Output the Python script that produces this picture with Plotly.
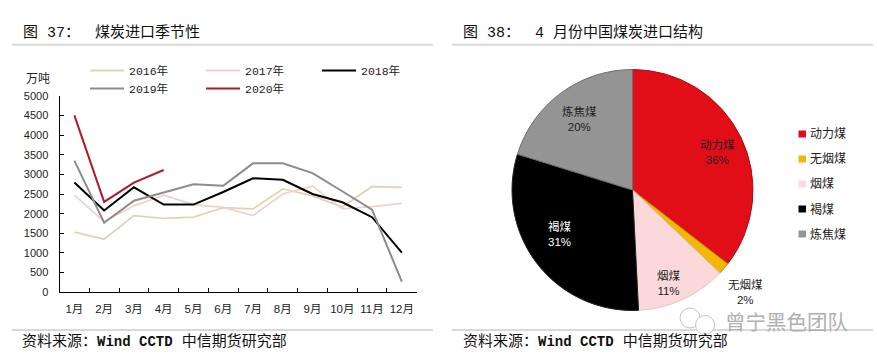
import plotly.graph_objects as go

W, H = 877, 360
months = ["1月","2月","3月","4月","5月","6月","7月","8月","9月","10月","11月","12月"]
y2016 = [1530,1350,1950,1880,1910,2150,2120,2630,2450,2170,2690,2670]
y2017 = [2470,1800,2200,2470,2230,2160,1950,2500,2700,2120,2180,2260]
y2018 = [2790,2080,2670,2230,2230,2550,2900,2860,2500,2290,1910,1010]
y2019 = [3350,1770,2330,2540,2750,2710,3280,3280,3030,2570,2100,270]
y2020 = [4500,2300,2790,3110]
series_names = ["2016年","2017年","2018年","2019年","2020年"]
series_colors = ["#E3D3B0","#F3CFCF","#000000","#8C8C8C","#B01C22"]
series_legend = ["legend","legend","legend","legend2","legend2"]
yticks = list(range(0,5001,500))

pie_labels = ["动力煤","无烟煤","烟煤","褐煤","炼焦煤"]
pie_values = [35.5,1.6,12.1,30.6,20.2]
pie_pct = ["36%","2%","11%","31%","20%"]
pie_colors = ["#E10E17","#F2B705","#FBD9DA","#000000","#949494"]
pie_edges = ["#A80C12","#B58A05","#E8C4C5","#222222","#6E6E6E"]

MONO = "'Liberation Mono','Noto Sans CJK SC',monospace"
SANS = "'Liberation Sans','Noto Sans CJK SC',sans-serif"
px = lambda x: x / W
py = lambda y: 1 - y / H

fig = go.Figure()
for name, vals, col, leg in zip(series_names, [y2016,y2017,y2018,y2019,y2020], series_colors, series_legend):
    fig.add_trace(go.Scatter(x=months[:len(vals)], y=vals, name=name, mode="lines",
                             line=dict(color=col, width=2 if col in ("#000000","#8C8C8C","#B01C22") else 1.8),
                             legend=leg))
fig.add_trace(go.Pie(labels=pie_labels, values=pie_values, sort=False, direction="clockwise",
                     rotation=0, textinfo="none", hoverinfo="label+percent", showlegend=False,
                     marker=dict(colors=pie_colors, line=dict(color=pie_edges, width=1)),
                     domain=dict(x=[px(512), px(753)], y=[py(310.5), py(69.5)])))

ann = []
def text(x, y, s, size=12, color="#111", family=SANS, anchor="center"):
    ann.append(dict(x=px(x), y=py(y), xref="paper", yref="paper", text=s, showarrow=False,
                    xanchor=anchor, yanchor="middle", align="center",
                    font=dict(size=size, color=color, family=family)))

source = "资料来源：<b><span style='font-size:14px'>Wind CCTD</span></b> 中信期货研究部"
text(21, 33, "图 37：", 15, "#111", MONO, "left")
text(93, 33, "煤炭进口季节性", 15, "#111", MONO, "left")
text(461, 33, "图 38：", 15, "#111", MONO, "left")
text(533, 33, "4 月份中国煤炭进口结构", 15, "#111", MONO, "left")
text(20, 342, source, 15, "#111", MONO, "left")
text(461, 342, source, 15, "#111", MONO, "left")
text(38, 79, "万吨", 12, "#222")

pie_pos = [(717,152.5),(745,292),(669,283),(560,234),(579,119.5)]
for lab, pct, (x,y), c in zip(pie_labels, pie_pct, pie_pos, ["#222","#222","#222","#fff","#222"]):
    text(x, y, f"{lab}<br>{pct}", 11.5, c, SANS)

shapes = []
leg_y = [134,159,184,209,234]
for lab, c, y in zip(pie_labels, pie_colors, leg_y):
    text(808, y, lab, 12, "#222", SANS, "left")
    shapes.append(dict(type="rect", xref="paper", yref="paper", x0=px(798.5), x1=px(806),
                       y0=py(y+3.5), y1=py(y-3.5), fillcolor=c, line=dict(color=c, width=0)))

text(723, 322, "曾宁黑色团队", 20.5, "#B0B0B0", SANS, "left")

for x0, x1 in [(12,433),(452,873)]:
    for y in (44.7, 330):
        shapes.append(dict(type="line", xref="paper", yref="paper", x0=px(x0), x1=px(x1),
                           y0=py(y), y1=py(y), line=dict(color="#D9D9D9", width=2)))
for cx, cy, r in [(690,318,10),(705,325,9.5)]:
    shapes.append(dict(type="circle", xref="paper", yref="paper", x0=px(cx-r), x1=px(cx+r),
                       y0=py(cy+r), y1=py(cy-r), line=dict(color="#C4C4C4", width=1), fillcolor="white"))

legend_common = dict(orientation="h", x=px(85), xanchor="left", yanchor="top",
                     entrywidth=67, entrywidthmode="pixels", itemwidth=34, traceorder="normal",
                     font=dict(size=11.5, family=MONO, color="#222"), bgcolor="rgba(0,0,0,0)")

fig.update_layout(
    width=W, height=H, autosize=False, margin=dict(l=0,r=0,t=0,b=0,autoexpand=False),
    paper_bgcolor="white", plot_bgcolor="white",
    font=dict(family=SANS, size=11, color="#222"),
    annotations=ann, shapes=shapes,
    xaxis=dict(domain=[px(59.5), px(416.7)], type="category", categoryorder="array", categoryarray=months,
               range=[-0.5,11.5], showgrid=False, zeroline=False, showline=True, linecolor="#000", linewidth=1,
               ticks="inside", ticklen=4, tickcolor="#000", tickson="boundaries", tickangle=0,
               ticklabelstandoff=6, automargin=False,
               tickfont=dict(size=11.5, family=SANS, color="#222")),
    yaxis=dict(domain=[py(292.3), py(95.7)], range=[0,5000], tickvals=yticks, showgrid=False, zeroline=False,
               showline=True, linecolor="#000", linewidth=1, ticks="inside", ticklen=4, tickcolor="#000",
               ticklabelstandoff=8, automargin=False, tickfont=dict(size=11, family=SANS, color="#222")),
    legend=dict(y=py(56), **legend_common),
    legend2=dict(y=py(74), **legend_common),
)
fig.write_html("out.html", post_script="document.body.style.margin='0';",
               config=dict(displayModeBar=False))
